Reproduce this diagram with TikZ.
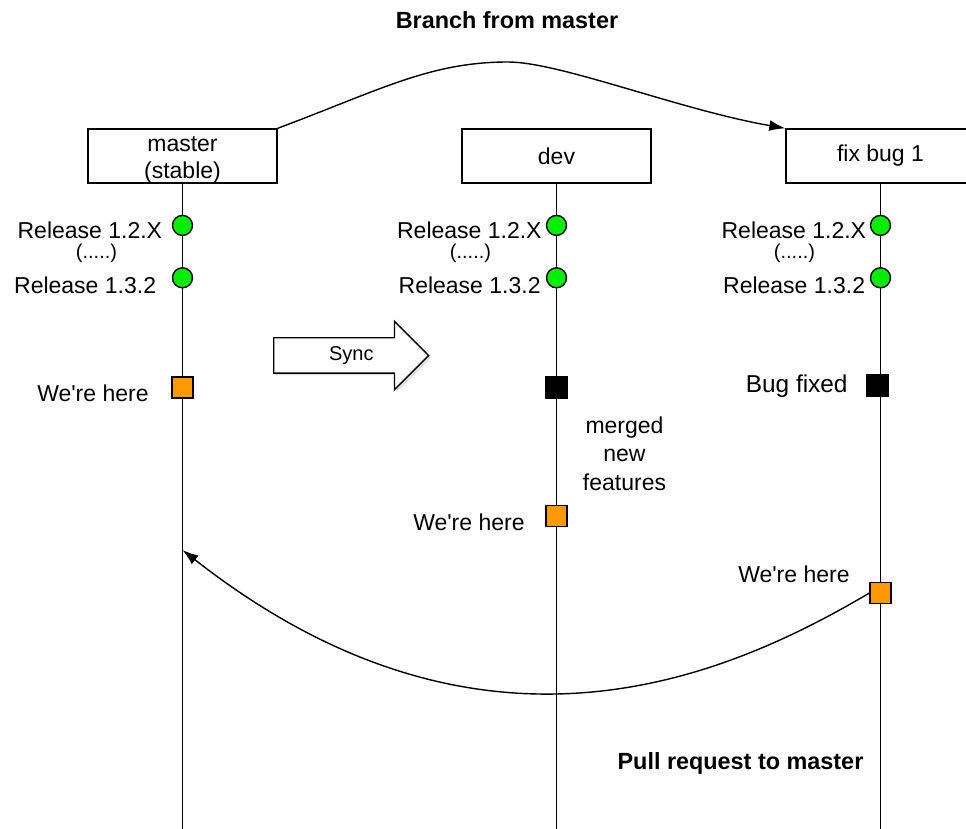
\documentclass[tikz,border=0pt]{standalone}
\usepackage{fontspec}
\setmainfont{Liberation Sans}[Ligatures=TeXOff]
\usetikzlibrary{positioning,calc,arrows.meta,shapes.arrows,shadows}

\definecolor{relgreen}{RGB}{0,238,0}
\definecolor{hereorange}{RGB}{255,153,0}

\tikzstyle{b} = [rectangle, minimum width=94.5pt, minimum height=27pt, inner ysep=1pt, align=center, draw=black, fill=white, font=\fontsize{11.5}{13.5}\selectfont]
\tikzstyle{rel} = [circle, minimum size=10pt, inner sep=0pt, draw=black, fill=relgreen]
\tikzstyle{here} = [rectangle, minimum size=10.5pt, inner sep=0pt, draw=black, fill=hereorange]
\tikzstyle{fixed} = [rectangle, minimum size=10.5pt, inner sep=0pt, draw=black, fill=black]
\tikzstyle{t} = [inner sep=0pt, align=center, font=\fontsize{11.5}{14.25}\selectfont]
\tikzstyle{dots} = [inner sep=0pt, font=\fontsize{10}{12}\selectfont]
\tikzstyle{heading} = [inner sep=0pt, font=\fontsize{11.7}{14}\selectfont\bfseries]
\tikzstyle{sync} = [single arrow, draw=black, fill=white, minimum height=77.5pt, minimum width=33.5pt, single arrow head extend=8.25pt, inner xsep=0pt, inner ysep=8.5pt, drop shadow={opacity=0.3, shadow xshift=1pt, shadow yshift=-1pt}]

\begin{document}
\begin{tikzpicture}[x=0.5pt, y=-0.5pt, node distance=187pt, line width=0.7pt, >={Latex[length=8pt, width=5.5pt]}]
\useasboundingbox (0,0) rectangle (966,829);

\node[b, inner ysep=0pt] (master) at (182.5,156) {\rule{0pt}{11pt}master\\(stable)};
\node[b] (dev) [right of=master] {dev};
\node[b] (fixBug) [right of=dev, xshift=-25pt] {fix bug 1};

\coordinate (bottom) at (0,829);
\foreach \b in {master, dev, fixBug}
  \draw (\b.south) -- (\b.south |- bottom);

\foreach \b/\ga/\gb in {master/4.5pt/7.5pt, dev/1.75pt/2.25pt, fixBug/1.5pt/2pt} {
  \node[rel] (\b-relA) [below=15.5pt of \b] {};
  \node[rel] (\b-relB) [below=15.5pt of \b-relA] {};
  \node[t] (\b-relAtext) [left=\ga of \b-relA, yshift=-2.5pt] {Release 1.2.X};
  \node[dots] (\b-dots) at ([shift={(-86,28)}]\b-relA) {(.....)};
  \node[t] (\b-relBtext) [left=\gb of \b-relB, yshift=-3.5pt] {Release 1.3.2};
}

\node[here] (masterHere) [below=44pt of master-relB] {};
\node[t] (masterHereText) [left=11pt of masterHere, yshift=-3pt] {We're here};

\node[fixed] (devFixed) [below=44pt of dev-relB] {};
\node[t] (merged) at (624.5,453.5) {merged\\new\\features};
\node[here] (devHere) [below=53pt of devFixed] {};
\node[t] (devHereText) [left=10pt of devHere, yshift=-3pt] {We're here};

\node[fixed] (fixFixed) [below=43pt of fixBug-relB, xshift=-1.5pt] {};
\node[t, font=\fontsize{12.2}{14}\selectfont] (fixFixedText) [left=9pt of fixFixed] {Bug fixed};
\node[here] (fixHere) [below=92.5pt of fixFixed, xshift=1.5pt] {};
\node[t] (fixHereText) [left=9.5pt of fixHere, yshift=9.25pt] {We're here};

\node[sync, anchor=tail] (sync) at (273,355.5) {};
\node[dots] (syncText) at ($(sync.tail)!0.5!(sync.tip)$) {Sync};

\node[heading] (branchTitle) at (507,20) {Branch from master};
\node[heading] (prTitle) at (740.5,763) {Pull request to master};

\coordinate (masterPR) at (182.5,550);
\draw[->] (master.north east) .. controls (380,90) and (430,62) .. (508,62)
  .. controls (560,62) and (680,110) .. (fixBug.north west);
\draw[->] (fixHere.west) .. controls (722,680) and (480,783) .. (masterPR);

\end{tikzpicture}
\end{document}
